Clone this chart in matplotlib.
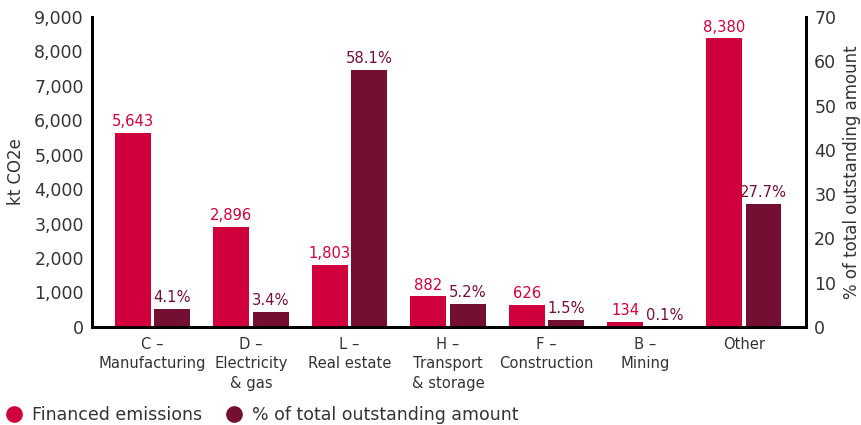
import matplotlib.pyplot as plt
from matplotlib.lines import Line2D
import numpy as np

sectors = ['C –\nManufacturing', 'D –\nElectricity\n& gas', 'L –\nReal estate',
           'H –\nTransport\n& storage', 'F –\nConstruction', 'B –\nMining', 'Other']
emissions = [5643, 2896, 1803, 882, 626, 134, 8380]
outstanding_pct = [4.1, 3.4, 58.1, 5.2, 1.5, 0.1, 27.7]

red = '#D0003C'
wine = '#730F33'
txt = '#333333'

plt.rcParams['font.family'] = 'DejaVu Sans'

fig = plt.figure(figsize=(8.61, 4.25), dpi=100)
ax = fig.add_axes([0.107, 0.231, 0.829, 0.729])
ax2 = ax.twinx()

x = np.arange(len(sectors))
w = 0.365
off = 0.2

ax.bar(x - off, emissions, w, color=red)
ax2.bar(x + off, outstanding_pct, w, color=wine)

for xi, v in zip(x, emissions):
    ax.text(xi - off, v + 110, f'{v:,}', ha='center', va='bottom', color=red, fontsize=10.6)
for xi, v in zip(x, outstanding_pct):
    ax2.text(xi + off, v + 0.85, f'{v}%', ha='center', va='bottom', color=wine, fontsize=10.6)

ax.set_xlim(-0.61, 6.63)
ax.set_ylim(0, 9000)
ax2.set_ylim(0, 70)
ax.set_yticks(range(0, 9001, 1000))
ax.set_yticklabels([f'{t:,}' for t in range(0, 9001, 1000)])
ax2.set_yticks(range(0, 71, 10))

ax.set_xticks(x)
ax.set_xticklabels(sectors, color=txt, linespacing=1.4)

for a in (ax, ax2):
    a.spines['top'].set_visible(False)
    for s in ('left', 'right', 'bottom'):
        a.spines[s].set_linewidth(2)
        a.spines[s].set_color('black')
    a.tick_params(length=0, colors=txt)
    a.tick_params(axis='y', labelsize=12.5, pad=6)
ax.tick_params(axis='x', labelsize=10.6, pad=7)
ax.set_zorder(ax2.get_zorder() + 1)
ax.patch.set_visible(False)

ax.set_ylabel('kt CO2e', fontsize=12, color=txt)
ax.yaxis.set_label_coords(-0.094, 0.5)
ax2.set_ylabel('% of total outstanding amount', fontsize=12, color=txt)
ax2.yaxis.set_label_coords(1.052, 0.5)

handles = [Line2D([], [], marker='o', linestyle='', markersize=11, color=red),
           Line2D([], [], marker='o', linestyle='', markersize=11, color=wine)]
fig.legend(handles, ['Financed emissions', '% of total outstanding amount'],
           loc='lower left', bbox_to_anchor=(-0.022, -0.035), ncol=2, frameon=False,
           fontsize=12.5, handletextpad=0.05, columnspacing=0.8, labelcolor=txt)

fig.savefig('out.png', dpi=100)
